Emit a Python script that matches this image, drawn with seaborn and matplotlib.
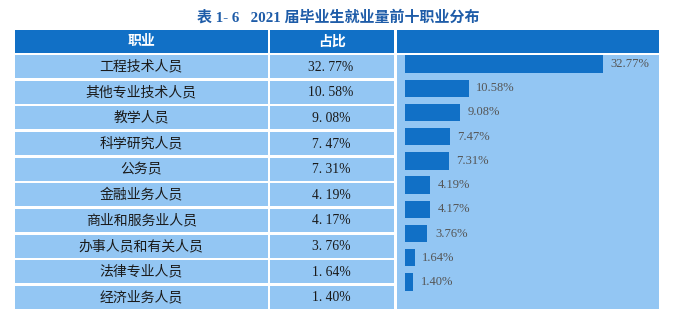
import matplotlib
matplotlib.use("Agg")
import matplotlib.pyplot as plt
import seaborn as sns
import pandas as pd
from matplotlib.patches import Rectangle

# ---- data ----
title = "表 1- 6   2021 届毕业生就业量前十职业分布"
header = ["职业", "占比"]
occupations = ["工程技术人员", "其他专业技术人员", "教学人员", "科学研究人员", "公务员",
               "金融业务人员", "商业和服务业人员", "办事人员和有关人员", "法律专业人员", "经济业务人员"]
shares = [32.77, 10.58, 9.08, 7.47, 7.31, 4.19, 4.17, 3.76, 1.64, 1.40]

DARK = "#1170C6"
LIGHT = "#93C6F3"
TITLE_C = "#1E5CA8"
W, H = 677, 324

sns.set_theme(style="white")
plt.rcParams["font.family"] = ["Noto Sans CJK SC", "DejaVu Sans"]
SERIF = ["Liberation Serif", "Noto Sans CJK SC"]

fig = plt.figure(figsize=(W / 100, H / 100), dpi=100)
bg = fig.add_axes([0, 0, 1, 1])
bg.set_xlim(0, W)
bg.set_ylim(H, 0)
bg.axis("off")


def px_axes(x0, y0, x1, y1):
    return fig.add_axes([x0 / W, 1 - y1 / H, (x1 - x0) / W, (y1 - y0) / H])


# layout (pixels)
TL, C1R, C2L, C2R, PL, PR = 15, 267.5, 270, 394, 397, 659
HT, HB, RT, RB = 30, 52.5, 55, 309
GAP = 2.5
pitch = (RB - RT + GAP) / len(occupations)
cell_h = pitch - GAP

# title
bg.text(338, 17.5, title, ha="center", va="center", fontsize=10.8, fontweight="bold",
        color=TITLE_C, family=SERIF)

# header row
for x0, x1 in [(TL, C1R), (C2L, C2R), (PL, PR)]:
    bg.add_patch(Rectangle((x0, HT), x1 - x0, HB - HT, color=DARK, lw=0))
bg.text((TL + C1R) / 2, (HT + HB) / 2, header[0], ha="center", va="center",
        fontsize=10, fontweight="bold", color="white")
bg.text((C2L + C2R) / 2, (HT + HB) / 2, header[1], ha="center", va="center",
        fontsize=10, fontweight="bold", color="white")

# table rows
for i, (name, v) in enumerate(zip(occupations, shares)):
    y0 = RT + i * pitch
    for x0, x1 in [(TL, C1R), (C2L, C2R)]:
        bg.add_patch(Rectangle((x0, y0), x1 - x0, cell_h, color=LIGHT, lw=0))
    yc = y0 + cell_h / 2
    bg.text((TL + C1R) / 2, yc, name, ha="center", va="center", fontsize=10, color="#1a1a1a")
    bg.text((C2L + C2R) / 2 - 1, yc + 0.5, f"{v:.2f}%".replace(".", ". "), ha="center",
            va="center", fontsize=9.8, color="#1a1a1a", family=SERIF)

# bar panel
ax = px_axes(PL, RT, PR, RB)
ax.set_facecolor(LIGHT)
df = pd.DataFrame({"occupation": occupations, "share": shares})
sns.barplot(data=df, x="share", y="occupation", orient="h", color=DARK,
            saturation=1, width=0.72, ax=ax)
for p in ax.patches:
    p.set_edgecolor("none")
px_per = (603 - 404.7) / shares[0]
ax.set_xlim(-(404.7 - PL) / px_per, (PR - 404.7) / px_per)
bar_pitch = (282 - 64) / 9
ax.set_ylim((RB - 64) / bar_pitch, -(64 - RT) / bar_pitch)
ax.bar_label(ax.containers[0], labels=[f"{v:.2f}%" for v in shares], padding=5.5,
             fontsize=9, color="#555555", family=SERIF)
ax.set_xlabel("")
ax.set_ylabel("")
ax.set_xticks([])
ax.set_yticks([])
for s in ax.spines.values():
    s.set_visible(False)

fig.savefig("out.png", dpi=100)
